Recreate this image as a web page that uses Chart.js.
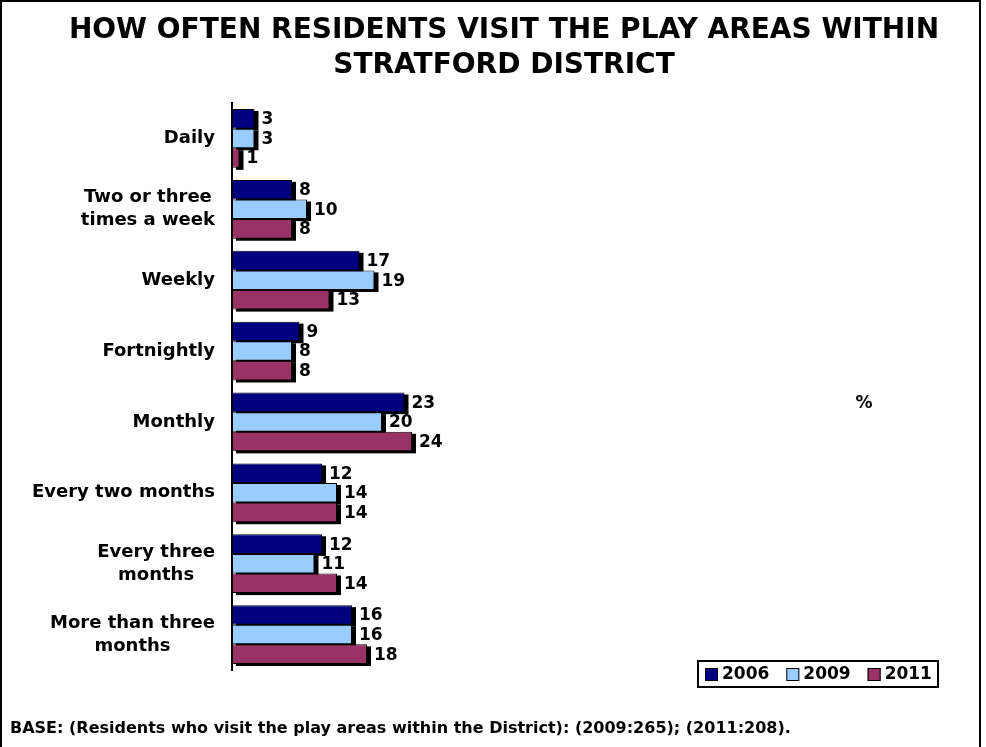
<!DOCTYPE html>
<html>
<head>
<meta charset="utf-8">
<script src="https://cdn.jsdelivr.net/npm/chart.js@4"></script>
<style>
  html, body { margin: 0; padding: 0; background: #fff; }
  canvas { display: block; }
</style>
</head>
<body>
<canvas id="visitsChart" width="986" height="747"></canvas>
<script>
const categories = [
  "Daily",
  ["Two or three", "times a week"],
  "Weekly",
  "Fortnightly",
  "Monthly",
  "Every two months",
  ["Every three", "months"],
  ["More than three", "months"],
];
const years = ["2006", "2009", "2011"];
const values2006 = [3, 8, 17, 9, 23, 12, 12, 16];
const values2009 = [3, 10, 19, 8, 20, 14, 11, 16];
const values2011 = [1, 8, 13, 8, 24, 14, 14, 18];
const colours = ["#000080", "#99CCFF", "#993366"];

const titleLines = ["HOW OFTEN RESIDENTS VISIT THE PLAY AREAS WITHIN", "STRATFORD DISTRICT"];
const baseNote = "BASE: (Residents who visit the play areas within the District): (2009:265); (2011:208).";
const FONT = "'DejaVu Sans', Verdana, sans-serif";

// black drop shadow behind every bar
const barShadow = {
  id: "barShadow",
  beforeDatasetsDraw(chart) {
    const ctx = chart.ctx;
    ctx.save();
    ctx.fillStyle = "#000";
    chart.data.datasets.forEach((ds, i) => {
      chart.getDatasetMeta(i).data.forEach((bar) => {
        const { x, y, base, height } = bar.getProps(["x", "y", "base", "height"], true);
        ctx.fillRect(base + 4, y - height / 2 + 2, x - base, height);
      });
    });
    ctx.restore();
  },
};

// value labels, category labels, title, legend, frame
const decorations = {
  id: "decorations",
  afterDatasetsDraw(chart) {
    const ctx = chart.ctx;
    ctx.save();
    ctx.fillStyle = "#000";

    // values at the end of each bar
    ctx.font = "bold 17px " + FONT;
    ctx.textAlign = "left";
    ctx.textBaseline = "middle";
    chart.data.datasets.forEach((ds, i) => {
      chart.getDatasetMeta(i).data.forEach((bar, j) => {
        ctx.fillText(String(ds.data[j]), bar.x + 7, bar.y + 1);
      });
    });

    // category labels, lines centred inside a right-aligned block
    const yScale = chart.scales.y;
    const right = chart.chartArea.left - 17;
    ctx.font = "bold 18px " + FONT;
    ctx.textAlign = "center";
    categories.forEach((cat, i) => {
      const lines = Array.isArray(cat) ? cat : [cat];
      const w = Math.max(...lines.map((l) => ctx.measureText(l).width));
      const cx = right - w / 2;
      const cy = yScale.getPixelForValue(i);
      const lh = 23;
      lines.forEach((l, k) => {
        ctx.fillText(l, cx, cy + (k - (lines.length - 1) / 2) * lh);
      });
    });

    // title
    ctx.font = "bold 28px " + FONT;
    ctx.textAlign = "center";
    titleLines.forEach((l, k) => ctx.fillText(l, 504, 31 + k * 35));

    // percent sign
    ctx.font = "bold 17px " + FONT;
    ctx.fillText("%", 864, 404);

    // base note
    ctx.font = "bold 16px " + FONT;
    ctx.textAlign = "left";
    ctx.fillText(baseNote, 10, 729);

    // legend
    ctx.lineWidth = 2;
    ctx.strokeStyle = "#000";
    ctx.strokeRect(698, 661, 240, 26);
    ctx.font = "bold 17px " + FONT;
    let lx = 705;
    years.forEach((yr, i) => {
      ctx.fillStyle = colours[i];
      ctx.fillRect(lx, 668, 13, 13);
      ctx.lineWidth = 1;
      ctx.strokeRect(lx + 0.5, 668.5, 12, 12);
      ctx.fillStyle = "#000";
      ctx.fillText(yr, lx + 17, 675);
      lx += 17 + ctx.measureText(yr).width + 17;
    });

    // outer frame
    ctx.lineWidth = 2;
    ctx.strokeRect(1, 1, 979, 780);
    ctx.restore();
  },
};

new Chart(document.getElementById("visitsChart"), {
  type: "bar",
  data: {
    labels: categories,
    datasets: [
      { label: years[0], data: values2006, backgroundColor: colours[0] },
      { label: years[1], data: values2009, backgroundColor: colours[1] },
      { label: years[2], data: values2011, backgroundColor: colours[2] },
    ].map((ds) => ({
      ...ds,
      borderColor: "#000",
      borderWidth: 1,
      borderSkipped: false,
      categoryPercentage: 0.83,
      barPercentage: 1.0,
    })),
  },
  options: {
    indexAxis: "y",
    responsive: false,
    animation: false,
    devicePixelRatio: 1,
    layout: { padding: { left: 224, top: 103, right: 4, bottom: 77 } },
    plugins: {
      legend: { display: false },
      title: { display: false },
      tooltip: { enabled: false },
    },
    scales: {
      x: { display: false, min: 0, max: 100 },
      y: {
        grid: { display: false },
        ticks: { display: false },
        border: { display: true, color: "#000", width: 2 },
      },
    },
  },
  plugins: [barShadow, decorations],
});
</script>
</body>
</html>
